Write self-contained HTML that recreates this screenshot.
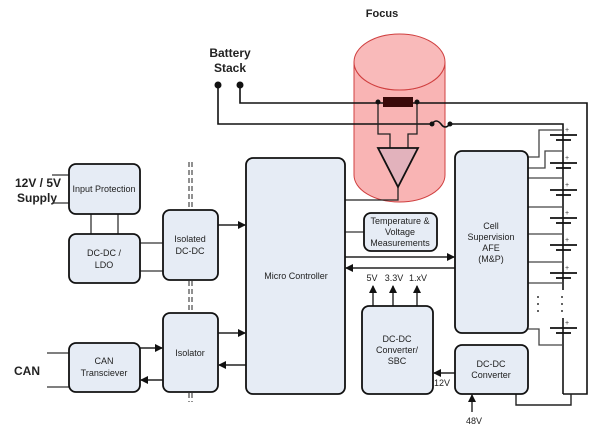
<!DOCTYPE html>
<html><head><meta charset="utf-8"><style>
html,body{margin:0;padding:0;background:#fff;}
svg{display:block;}
text{font-family:"Liberation Sans",sans-serif;}
</style></head><body>
<svg width="615" height="437" viewBox="0 0 615 437" xmlns="http://www.w3.org/2000/svg">
<defs>
<marker id="a" markerWidth="8" markerHeight="8" refX="7" refY="4" orient="auto" markerUnits="userSpaceOnUse"><path d="M0,0 L8,4 L0,8 z" fill="#111"/></marker>
</defs>
<!-- cylinder -->
<path d="M354,62 A45.5,28 0 0 0 445,62 L445,175 A45.5,27 0 0 1 354,175 Z" fill="#f9b4b4" stroke="#d04040" stroke-width="1"/>
<ellipse cx="399.5" cy="62" rx="45.5" ry="28" fill="#f9baba" stroke="#d04040" stroke-width="1"/>
<g fill="none" stroke="#111" stroke-width="1.6">
<polyline points="240,85 240,103 587,103 587,394 563,394"/>
<polyline points="218,85 218,124 432,124"/>
<path d="M432,124 q4,-6 9,0 q4,6 9,0"/>
<polyline points="450,124 563,124 563,290"/>
<line x1="563" y1="318" x2="563" y2="394"/>
</g>
<circle cx="218" cy="85" r="3.5" fill="#111"/>
<circle cx="240" cy="85" r="3.5" fill="#111"/>
<circle cx="432" cy="124" r="2.5" fill="#111"/>
<circle cx="450" cy="124" r="2.5" fill="#111"/>
<g fill="none" stroke="#222" stroke-width="1.3">
<polyline points="378,102 378,134 390,134 390,148"/>
<polyline points="417,102 417,134 408,134 408,148"/>
<polyline points="398,187 398,200 345,200"/>
</g>
<rect x="383" y="97" width="30" height="10" fill="#3a0a0a"/>
<circle cx="378" cy="102" r="2.5" fill="#111"/>
<circle cx="417" cy="102" r="2.5" fill="#111"/>
<polygon points="378,148 418,148 398,187" fill="#e2b2bc" stroke="#111" stroke-width="1.8"/>
<text x="382" y="17" font-size="11" font-weight="bold" text-anchor="middle" fill="#222">Focus</text>
<text x="230" y="57" font-size="12" font-weight="bold" text-anchor="middle" fill="#222">Battery</text>
<text x="230" y="72" font-size="12" font-weight="bold" text-anchor="middle" fill="#222">Stack</text>
<text x="38" y="187" font-size="12" font-weight="bold" text-anchor="middle" fill="#222">12V / 5V</text>
<text x="37" y="202" font-size="12" font-weight="bold" text-anchor="middle" fill="#222">Supply</text>
<text x="27" y="375" font-size="12" font-weight="bold" text-anchor="middle" fill="#222">CAN</text>
<g stroke="#333" stroke-width="1.3" fill="none">
<line x1="52" y1="175" x2="69" y2="175"/><line x1="52" y1="203" x2="69" y2="203"/>
<line x1="47" y1="353" x2="69" y2="353"/><line x1="47" y1="387" x2="69" y2="387"/>
<line x1="91" y1="214" x2="91" y2="234"/><line x1="118" y1="214" x2="118" y2="234"/>
<line x1="140" y1="243" x2="163" y2="243"/><line x1="140" y1="271" x2="163" y2="271"/>
<line x1="364" y1="232" x2="345" y2="232"/>
</g>
<g stroke="#222" stroke-width="1.4" fill="none">
<line x1="218" y1="225" x2="245" y2="225" marker-end="url(#a)"/>
<line x1="218" y1="333" x2="245" y2="333" marker-end="url(#a)"/>
<line x1="246" y1="365" x2="219" y2="365" marker-end="url(#a)"/>
<line x1="140" y1="348" x2="162" y2="348" marker-end="url(#a)"/>
<line x1="163" y1="380" x2="141" y2="380" marker-end="url(#a)"/>
<line x1="345" y1="257" x2="454" y2="257" marker-end="url(#a)"/>
<line x1="455" y1="268" x2="346" y2="268" marker-end="url(#a)"/>
<line x1="373" y1="306" x2="373" y2="286" marker-end="url(#a)"/>
<line x1="393" y1="306" x2="393" y2="286" marker-end="url(#a)"/>
<line x1="417" y1="306" x2="417" y2="286" marker-end="url(#a)"/>
<line x1="455" y1="373" x2="434" y2="373" marker-end="url(#a)"/>
<line x1="472" y1="412" x2="472" y2="395" marker-end="url(#a)"/>
<polyline points="516,394 516,405 571,405 571,394"/>
</g>
<g stroke="#222" stroke-width="1" stroke-dasharray="5,3">
<line x1="189" y1="162" x2="189" y2="210"/><line x1="192" y1="162" x2="192" y2="210"/>
<line x1="189" y1="281" x2="189" y2="313"/><line x1="192" y1="281" x2="192" y2="313"/>
<line x1="189" y1="393" x2="189" y2="402"/><line x1="192" y1="393" x2="192" y2="402"/>
</g>
<g stroke="#444" stroke-width="1.3" fill="none">
<polyline points="528,157 539,157 539,130 563,130"/>
<polyline points="528,168 545,168 545,151 563,151"/>
<line x1="528" y1="178" x2="563" y2="178"/>
<line x1="528" y1="207" x2="563" y2="207"/>
<line x1="528" y1="234" x2="563" y2="234"/>
<line x1="528" y1="262" x2="563" y2="262"/>
<line x1="528" y1="283" x2="563" y2="283"/>
<polyline points="527,329 539,329 539,345 563,345"/>
</g>
<g stroke="#111" stroke-width="1.8">
<line x1="550" y1="135" x2="577" y2="135"/><line x1="556" y1="140" x2="571" y2="140"/>
<line x1="550" y1="163" x2="577" y2="163"/><line x1="556" y1="168" x2="571" y2="168"/>
<line x1="550" y1="190" x2="577" y2="190"/><line x1="556" y1="195" x2="571" y2="195"/>
<line x1="550" y1="218" x2="577" y2="218"/><line x1="556" y1="223" x2="571" y2="223"/>
<line x1="550" y1="245" x2="577" y2="245"/><line x1="556" y1="250" x2="571" y2="250"/>
<line x1="550" y1="273" x2="577" y2="273"/><line x1="556" y1="278" x2="571" y2="278"/>
<line x1="550" y1="328" x2="577" y2="328"/><line x1="556" y1="333" x2="571" y2="333"/>
</g>
<g font-size="7" fill="#333">
<text x="565" y="132">+</text><text x="565" y="160">+</text><text x="565" y="187">+</text><text x="565" y="215">+</text><text x="565" y="242">+</text><text x="565" y="270">+</text><text x="565" y="325">+</text>
</g>
<g fill="#333">
<circle cx="538" cy="297" r="1"/><circle cx="538" cy="304" r="1"/><circle cx="538" cy="311" r="1"/>
<circle cx="562" cy="297" r="1"/><circle cx="562" cy="304" r="1"/><circle cx="562" cy="311" r="1"/>
</g>
<g fill="#e6ecf5" stroke="#111" stroke-width="1.8">
<rect x="69" y="164" width="71" height="50" rx="7"/>
<rect x="69" y="234" width="71" height="49" rx="7"/>
<rect x="163" y="210" width="55" height="70" rx="7"/>
<rect x="163" y="313" width="55" height="79" rx="7"/>
<rect x="69" y="343" width="71" height="49" rx="7"/>
<rect x="246" y="158" width="99" height="236" rx="7"/>
<rect x="364" y="213" width="73" height="38" rx="7"/>
<rect x="455" y="151" width="73" height="182" rx="7"/>
<rect x="362" y="306" width="71" height="88" rx="7"/>
<rect x="455" y="345" width="73" height="49" rx="7"/>
</g>
<g font-size="9" fill="#222" text-anchor="middle">
<text x="104" y="192">Input Protection</text>
<text x="104" y="256">DC-DC /</text><text x="104" y="268">LDO</text>
<text x="190" y="242">Isolated</text><text x="190" y="254">DC-DC</text>
<text x="190" y="356">Isolator</text>
<text x="104" y="364">CAN</text><text x="104" y="376">Transciever</text>
<text x="296" y="279">Micro Controller</text>
<text x="400" y="224">Temperature &amp;</text><text x="400" y="235">Voltage</text><text x="400" y="246">Measurements</text>
<text x="491" y="229">Cell</text><text x="491" y="240">Supervision</text><text x="491" y="251">AFE</text><text x="491" y="262">(M&amp;P)</text>
<text x="397" y="342">DC-DC</text><text x="397" y="353">Converter/</text><text x="397" y="364">SBC</text>
<text x="491" y="367">DC-DC</text><text x="491" y="378">Converter</text>
<text x="372" y="281">5V</text><text x="394" y="281">3.3V</text><text x="418" y="281">1.xV</text>
<text x="442" y="386">12V</text>
<text x="474" y="424">48V</text>
</g>
</svg>
</body></html>
